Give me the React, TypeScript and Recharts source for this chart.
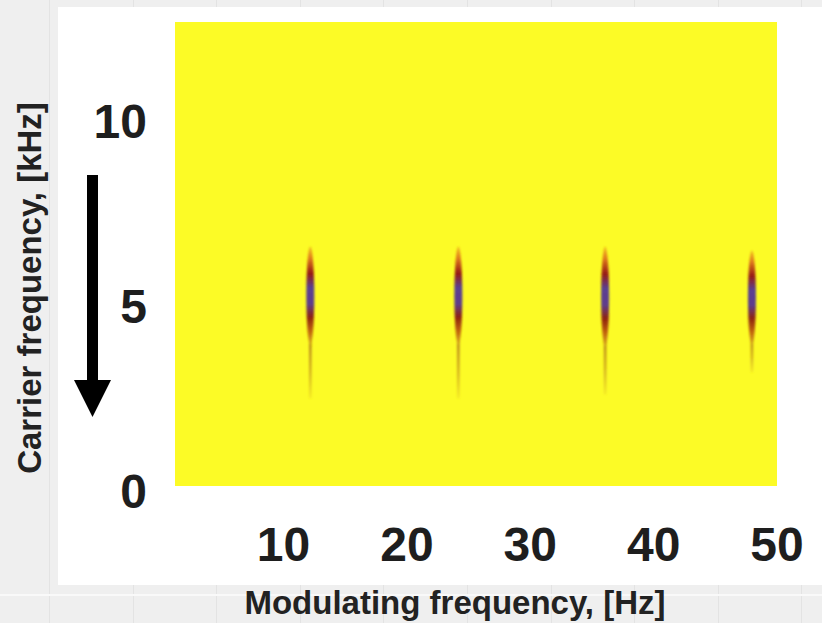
import { Bar, CartesianGrid, ComposedChart, XAxis, YAxis } from "recharts";

// modulation spectrum: peaks at harmonics of the 12 Hz modulator, around 5 kHz carrier
const spikeFreqs = [12.2, 24.2, 36.1, 48.0];
const spikeTop = [6.6, 6.6, 6.6, 6.5];
const spikeBodyBottom = [3.95, 3.95, 3.9, 3.95];
const spikeTailBottom = [2.5, 2.5, 2.6, 3.2];

const xTicks = [10, 20, 30, 40, 50];
const yTicks = [0, 5, 10];

const spikes = spikeFreqs.map((f, i) => ({
  f,
  range: [spikeTailBottom[i], spikeTop[i]],
  top: spikeTop[i],
  body: spikeBodyBottom[i],
  tail: spikeTailBottom[i],
}));

const FONT = '"Liberation Sans", Arial, sans-serif';
const YELLOW = "#fcfb26";

function Spike(props: any) {
  const { x, y, width, height, payload } = props;
  if (height == null || height <= 0) return null;
  const frac = (payload.top - payload.body) / (payload.top - payload.tail);
  const bodyH = height * frac;
  const cx = x + width / 2;
  return (
    <g filter="url(#spike-blur)">
      <rect
        x={cx - 1.3}
        y={y + bodyH - 6}
        width={2.6}
        height={height - bodyH + 6}
        fill="url(#tail-grad)"
      />
      <ellipse cx={cx} cy={y + bodyH / 2} rx={width / 2} ry={bodyH / 2} fill="url(#spike-grad)" />
    </g>
  );
}

export default function App() {
  return (
    <div
      style={{
        position: "absolute",
        left: 0,
        top: 0,
        width: 822,
        height: 623,
        background: "#efefef",
        backgroundImage:
          "repeating-linear-gradient(to right, transparent 0px, transparent 49px, #e3e3e3 49px, #e3e3e3 50px, transparent 50px, transparent 83.6px)",
        fontFamily: FONT,
        overflow: "hidden",
      }}
    >
      <div style={{ position: "absolute", left: 0, top: 594, width: 822, height: 2, background: "#f9f9f9" }} />
      <div style={{ position: "absolute", left: 58, top: 7, width: 764, height: 578, background: "#ffffff" }} />
      <div style={{ position: "absolute", left: 0, top: 0 }}>
        <ComposedChart
          width={822}
          height={623}
          data={spikes}
          margin={{ top: 22, right: 45, bottom: 0, left: 0 }}
        >
          <defs>
            <linearGradient id="spike-grad" x1="0" y1="0" x2="0" y2="1">
              <stop offset="0%" stopColor="#f2c020" />
              <stop offset="12%" stopColor="#e07a1c" />
              <stop offset="27%" stopColor="#981c12" />
              <stop offset="42%" stopColor="#5a3f92" />
              <stop offset="58%" stopColor="#5e3e8c" />
              <stop offset="72%" stopColor="#8e2312" />
              <stop offset="86%" stopColor="#c0620e" />
              <stop offset="100%" stopColor="#d6a81c" />
            </linearGradient>
            <linearGradient id="tail-grad" x1="0" y1="0" x2="0" y2="1">
              <stop offset="0%" stopColor="#b88418" />
              <stop offset="60%" stopColor="#d8b820" />
              <stop offset="100%" stopColor="#f4ea24" />
            </linearGradient>
            <filter id="spike-blur" x="-100%" y="-20%" width="300%" height="140%">
              <feGaussianBlur stdDeviation="0.9" />
            </filter>
          </defs>
          <CartesianGrid horizontal={false} vertical={false} fill={YELLOW} stroke="none" />
          <XAxis
            dataKey="f"
            type="number"
            domain={[1.2, 50]}
            ticks={xTicks}
            interval={0}
            allowDataOverflow
            height={137}
            axisLine={false}
            tickLine={false}
            tickSize={0}
            tickMargin={41}
            tick={{ fontSize: 48, fontWeight: 700, fill: "#1e1e1e", fontFamily: FONT }}
            label={{
              value: "Modulating frequency, [Hz]",
              position: "insideBottom",
              offset: 9,
              dx: -21,
              fill: "#222",
              fontSize: 33,
              fontWeight: 700,
              fontFamily: FONT,
            }}
          />
          <YAxis
            type="number"
            domain={[0.13, 12.67]}
            ticks={yTicks}
            interval={0}
            allowDataOverflow
            width={175}
            axisLine={false}
            tickLine={false}
            tickSize={0}
            tickMargin={28}
            tick={{ fontSize: 48, fontWeight: 700, fill: "#1e1e1e", fontFamily: FONT }}
            label={{
              value: "Carrier frequency, [kHz]",
              angle: -90,
              position: "center",
              dx: -58,
              dy: 34,
              fill: "#222",
              fontSize: 33,
              fontWeight: 700,
              fontFamily: FONT,
            }}
          />
          <Bar dataKey="range" barSize={8} shape={<Spike />} isAnimationActive={false} />
        </ComposedChart>
      </div>
      <svg
        width={822}
        height={623}
        style={{ position: "absolute", left: 0, top: 0, pointerEvents: "none" }}
      >
        <rect x={87} y={175} width={11} height={207} fill="#000" />
        <polygon points="74,380 111,380 92.5,417" fill="#000" />
      </svg>
    </div>
  );
}
